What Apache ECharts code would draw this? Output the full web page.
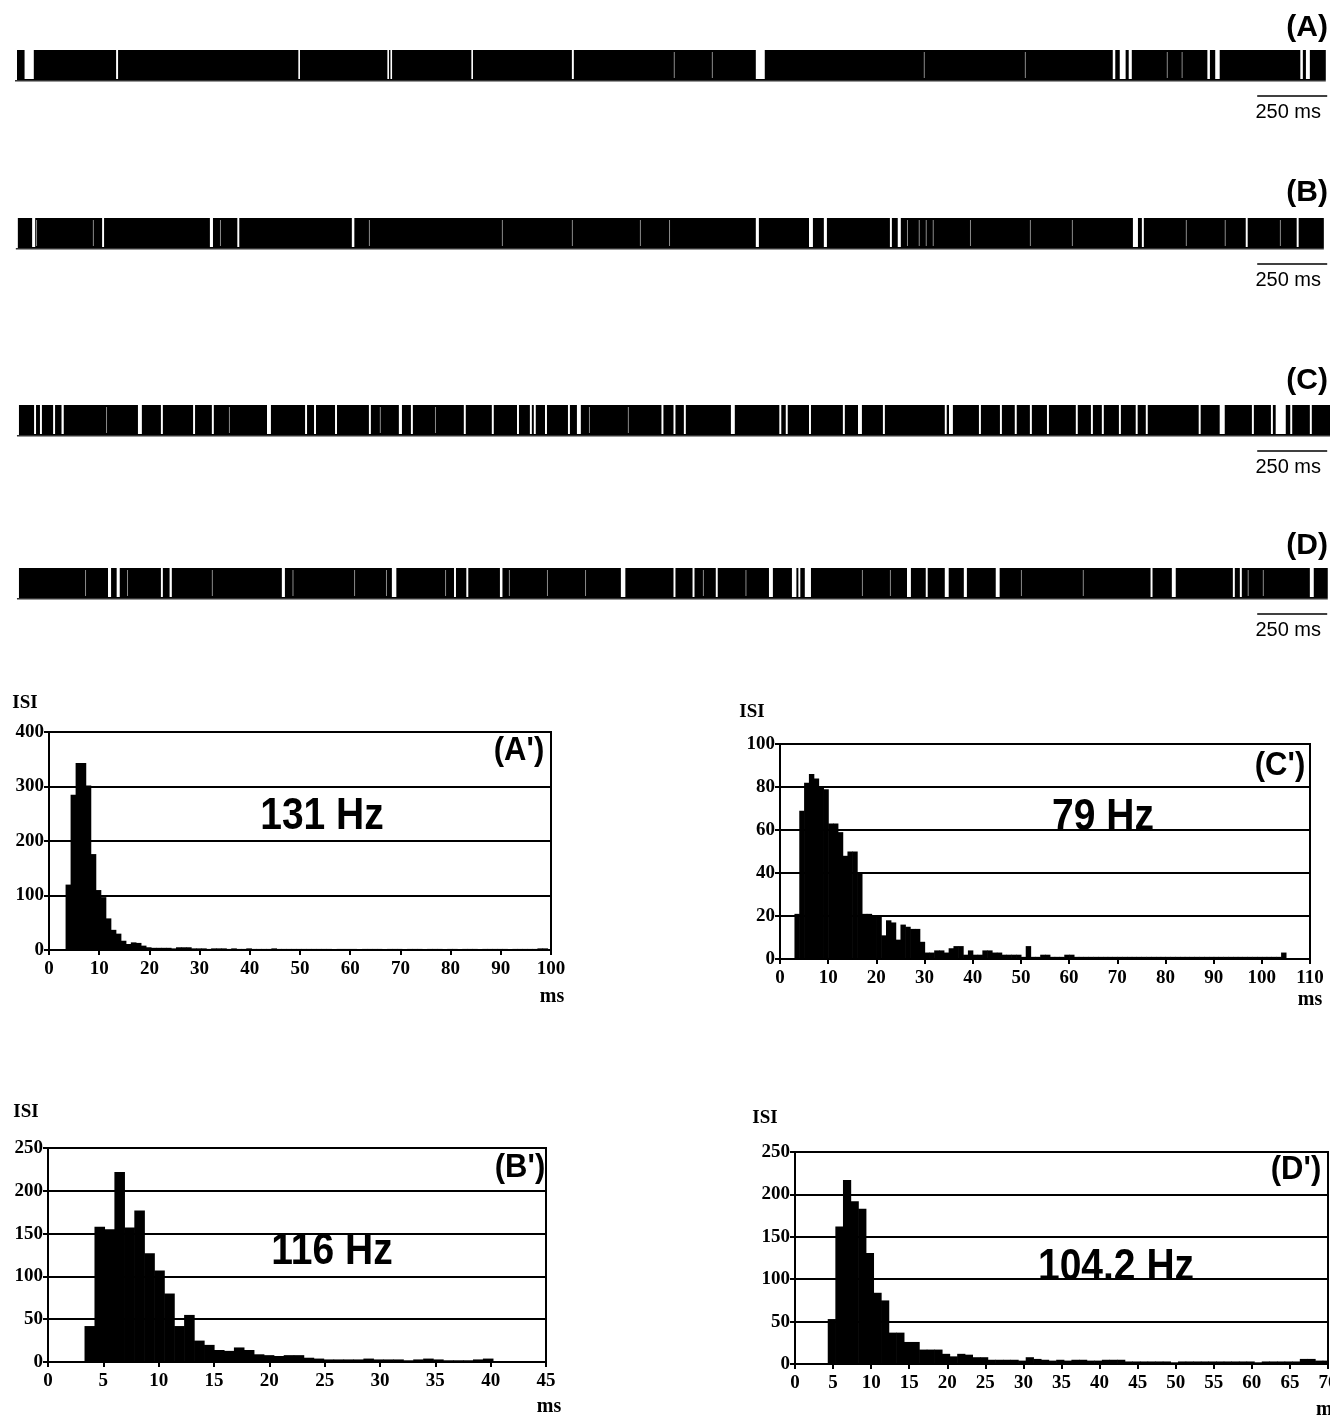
<!DOCTYPE html>
<html>
<head>
<meta charset="utf-8">
<script src="https://cdn.jsdelivr.net/npm/echarts@6/dist/echarts.min.js"></script>
<style>
html,body{margin:0;padding:0;background:#fff;}
#chart{width:1330px;height:1417px;}
</style>
</head>
<body>
<div id="chart"></div>
<script>
// ---------- Spike trains (ms) ----------
const rowLabels = ['(A)', '(B)', '(C)', '(D)'];
const spanA = [0, 4675];
const spanB = [3, 4668];
const spanC = [7, 4690];
const spanD = [7, 4682];
// pauses [start ms, duration ms]
const gapsA = [[27,33],[354,7],[1005,5],[1323,5],[1334,5],[1623,5],[1982,7],[2639,32],[3914,9],[3939,21],[3971,11],[4252,9],[4280,16],[4584,9],[4604,14]];
const gapsB = [[54,11],[304,7],[689,11],[787,7],[1196,9],[2639,11],[2829,14],[2882,11],[3118,7],[3146,11],[3986,18],[4018,7],[4389,7],[4571,7]];
const gapsC = [[61,7],[82,7],[129,7],[159,8],[432,14],[514,7],[629,7],[696,7],[893,14],[1029,7],[1061,7],[1136,7],[1257,7],[1364,11],[1407,7],[1596,7],[1696,7],[1786,7],[1832,7],[1846,7],[1886,7],[1968,7],[2000,14],[2302,7],[2345,7],[2382,7],[2550,14],[2723,7],[2746,7],[2829,7],[2950,7],[3004,14],[3093,7],[3314,7],[3329,14],[3436,7],[3511,7],[3564,7],[3618,7],[3679,7],[3782,7],[3836,7],[3875,7],[3936,7],[3996,7],[4032,7],[4221,7],[4296,18],[4411,7],[4479,7],[4496,36],[4548,7],[4618,7]];
const gapsD = [[325,11],[356,11],[514,7],[545,8],[946,11],[1339,16],[1561,7],[1605,7],[1725,9],[2157,16],[2345,7],[2413,7],[2496,7],[2686,14],[2768,16],[2791,7],[2814,22],[3179,14],[3246,7],[3314,14],[3382,11],[3496,14],[4049,7],[4125,14],[4343,7],[4368,7],[4618,14]];
// short (faint) intervals
const faintA = [2346,2482,3239,3600,4107,4160];
const faintB = [68,271,725,1257,1732,1982,2225,2329,3179,3221,3246,3271,3404,3618,3768,4175,4314,4511];
const faintC = [318,757,1296,1493,2043,2182];
const faintD = [243,393,696,984,1204,1318,1529,1757,1893,2029,2450,2602,3018,3118,3586,3807,4396,4450];
const scaleBar = [4430, 250];

// ---------- ISI histograms ----------
const histLabels = ["(A')", "(C')", "(B')", "(D')"];
const rateLabels = ['131 Hz', '79 Hz', '116 Hz', '104.2 Hz'];
// bin start (ms), bin width (ms), counts
const histA = {start:3.3, width:1, counts:[120,285,343,343,302,176,110,97,58,37,30,17,11,14,13,8,5,4,4,4,4,3,5,5,5,3,
  3,3,2,3,3,3,2,3,2,2, 3,2,2,2,2,3,2,2,2,2, 2,2,2,2,2,2,2,1,2,2, 2,2,1,2,2,2,2,1,2,2, 2,1,2,2,2,1,2,2,2,1, 2,2,1,2,2,2,1,2,2,2, 2,2,1,2,2,2,2,2,3,3]};
const histC = {start:3, width:1, counts:[21,69,82,86,84,80,79,63,63,59,48,50,50,40,21,21,20,20,11,18,17,9,16,15,14,14,8,3,3,4,4,3,5,6,6,2,4,2,2,4,4,3,3,2,2,2,2,1,6,1,1,2,2,1,1,1,2,2,
  1,1,1,1,1,1,1,1,1,1, 1,1,1,1,1,1,1,1,1,1, 1,1,1,1,1,1,1,1,1,1, 1,1,1,1,1,1,1,1,1,1, 1,1,1, 3]};
const histB = {start:3.3, width:0.9, counts:[42,158,155,222,157,177,127,107,80,42,55,25,20,14,13,17,14,9,8,7,8,8,5,4,3,3,3,3,4,3,3,3,2,3,4,3,2,2,2,3,4]};
const histD = {start:4.3, width:1, counts:[53,162,217,192,183,131,84,75,37,37,26,26,17,17,17,12,9,12,11,8,8,5,5,5,5,4,8,6,5,4,5,4,5,5,4,4,5,5,5,3,
  3,3,3,3,3,2,3,3,3,3,3,3,3,3,3,3,2,3,3,3,3,3, 6,6,4,4]};
const xMaxes = [100, 110, 45, 70];
const xIntervals = [10, 10, 5, 5];
const yMaxes = [400, 100, 250, 250];
const yIntervals = [100, 20, 50, 50];

// ---------- layout ----------
const rowTops = [50, 218, 405, 568];
const rowLabelY = [28, 193, 381, 546];
const histBoxes = [ // left, top, width, height
  [49, 732, 502, 218],
  [780, 744, 530, 215],
  [48, 1148, 498, 214],
  [795, 1152, 533, 212]
];
const isiPos = [[25,703],[752,712],[26,1112],[765,1118]];
const msPos = [[552,997],[1310,1000],[549,1407],[1316,1410]];
const msAlign = ['center','center','center','left'];
const hzPos = [[322,817],[1103,818],[332,1252],[1116,1268]];
const tagPos = [[519,751],[1280,766],[520,1168],[1296,1170]];

const spans = [spanA, spanB, spanC, spanD];
const gaps = [gapsA, gapsB, gapsC, gapsD];
const faints = [faintA, faintB, faintC, faintD];
const hists = [histA, histC, histB, histD];

function bandItem(params, api) {
  const a = api.coord([api.value(0), 1]);
  const b = api.coord([api.value(1), 0]);
  return {type:'group', children:[
    {type:'rect', shape:{x:a[0], y:a[1], width:b[0]-a[0], height:b[1]-a[1]}, style:{fill:'#000'}},
    {type:'rect', shape:{x:a[0]-2, y:b[1], width:b[0]-a[0]+2, height:1.5}, style:{fill:'#333'}}
  ]};
}
function gapItem(params, api) {
  const t = api.value(0), d = api.value(1);
  const a = api.coord([t, 1]), b = api.coord([t + d, 0]);
  return {type:'rect', shape:{x:a[0], y:a[1], width:Math.max(b[0]-a[0], 1.6), height:b[1]-a[1]-1}, style:{fill:'#fff'}};
}
function faintItem(params, api) {
  const a = api.coord([api.value(0), 1]), b = api.coord([api.value(0), 0]);
  return {type:'rect', shape:{x:a[0], y:a[1]+2, width:1, height:b[1]-a[1]-4}, style:{fill:'#8a8a8a'}};
}
function scaleItem(params, api) {
  const t = api.value(0), d = api.value(1);
  const a = api.coord([t, 0]), b = api.coord([t + d, 0]);
  const y = a[1] + 16;
  return {type:'group', children:[
    {type:'line', shape:{x1:a[0], y1:y, x2:b[0], y2:y}, style:{stroke:'#000', lineWidth:1.5}},
    {type:'text', x:(a[0]+b[0])/2 - 4, y:y + 16, style:{text:d + ' ms', font:'20px "Liberation Sans", Arial, sans-serif', fill:'#000', align:'center', verticalAlign:'middle'}}
  ]};
}
function histItem(params, api) {
  const x0 = api.value(0), w = api.value(1), c = api.value(2);
  const p0 = api.coord([x0, c]);
  const p1 = api.coord([x0 + w, 0]);
  return {type:'rect', shape:{x:p0[0], y:p0[1], width:p1[0]-p0[0]+0.6, height:p1[1]-p0[1]}, style:{fill:'#000'}};
}

const grid = [], xAxis = [], yAxis = [], series = [], graphic = [];

for (let i = 0; i < 4; i++) {
  grid.push({left:17, top:rowTops[i], width:1313, height:30, show:false, outerBoundsMode:'none', containLabel:false});
  xAxis.push({type:'value', gridIndex:i, min:0, max:4690, show:false});
  yAxis.push({type:'value', gridIndex:i, min:0, max:1, show:false});
  series.push({type:'custom', xAxisIndex:i, yAxisIndex:i, renderItem:bandItem, data:[spans[i]], z:1, silent:true});
  series.push({type:'custom', xAxisIndex:i, yAxisIndex:i, renderItem:faintItem, data:faints[i].map(t=>[t]), z:2, silent:true});
  series.push({type:'custom', xAxisIndex:i, yAxisIndex:i, renderItem:gapItem, data:gaps[i], z:3, silent:true});
  series.push({type:'custom', xAxisIndex:i, yAxisIndex:i, renderItem:scaleItem, data:[scaleBar], z:3, silent:true});
  graphic.push({type:'text', x:1328, y:rowLabelY[i], style:{text:rowLabels[i], font:'bold 30px "Liberation Sans", Arial, sans-serif', fill:'#000', align:'right', verticalAlign:'middle'}});
}

const tickFont = {color:'#000', fontFamily:'"Liberation Serif", serif', fontWeight:'bold', fontSize:19};
for (let k = 0; k < 4; k++) {
  const gi = 4 + k;
  const bx = histBoxes[k];
  grid.push({left:bx[0], top:bx[1], width:bx[2], height:bx[3], show:true, borderColor:'#000', borderWidth:2, backgroundColor:'transparent', outerBoundsMode:'none', containLabel:false});
  xAxis.push({type:'value', gridIndex:gi, min:0, max:xMaxes[k], interval:xIntervals[k],
    axisLine:{show:true, lineStyle:{color:'#000', width:2}},
    axisTick:{show:true, length:5, lineStyle:{color:'#000', width:2}},
    axisLabel:Object.assign({margin:10}, tickFont),
    splitLine:{show:false}});
  yAxis.push({type:'value', gridIndex:gi, min:0, max:yMaxes[k], interval:yIntervals[k],
    axisLine:{show:true, lineStyle:{color:'#000', width:2}},
    axisTick:{show:true, length:5, lineStyle:{color:'#000', width:2}},
    axisLabel:Object.assign({margin:5}, tickFont),
    splitLine:{show:true, lineStyle:{color:'#000', width:2}}});
  const h = hists[k];
  series.push({type:'custom', xAxisIndex:gi, yAxisIndex:gi, renderItem:histItem, clip:true, silent:true, z:3,
    data:h.counts.map((c, i) => [h.start + i * h.width, h.width, c])});
  graphic.push({type:'text', x:isiPos[k][0], y:isiPos[k][1], style:{text:'ISI', font:'bold 19px "Liberation Serif", serif', fill:'#000', align:'center', verticalAlign:'middle'}});
  graphic.push({type:'text', x:msPos[k][0], y:msPos[k][1], style:{text:'ms', font:'bold 20px "Liberation Serif", serif', fill:'#000', align:msAlign[k], verticalAlign:'middle'}});
  graphic.push({type:'text', x:hzPos[k][0], y:hzPos[k][1], scaleY:1.12, z:10, style:{text:rateLabels[k], font:'bold 39px "Liberation Sans", Arial, sans-serif', fill:'#000', align:'center', verticalAlign:'middle'}});
  graphic.push({type:'text', x:tagPos[k][0], y:tagPos[k][1], scaleY:1.05, z:10, style:{text:histLabels[k], font:'bold 31px "Liberation Sans", Arial, sans-serif', fill:'#000', align:'center', verticalAlign:'middle'}});
}

const chart = echarts.init(document.getElementById('chart'), null, {renderer:'canvas'});
chart.setOption({
  animation:false,
  backgroundColor:'#fff',
  textStyle:{fontFamily:'"Liberation Sans", Arial, sans-serif'},
  grid, xAxis, yAxis, series, graphic
});
</script>
</body>
</html>
